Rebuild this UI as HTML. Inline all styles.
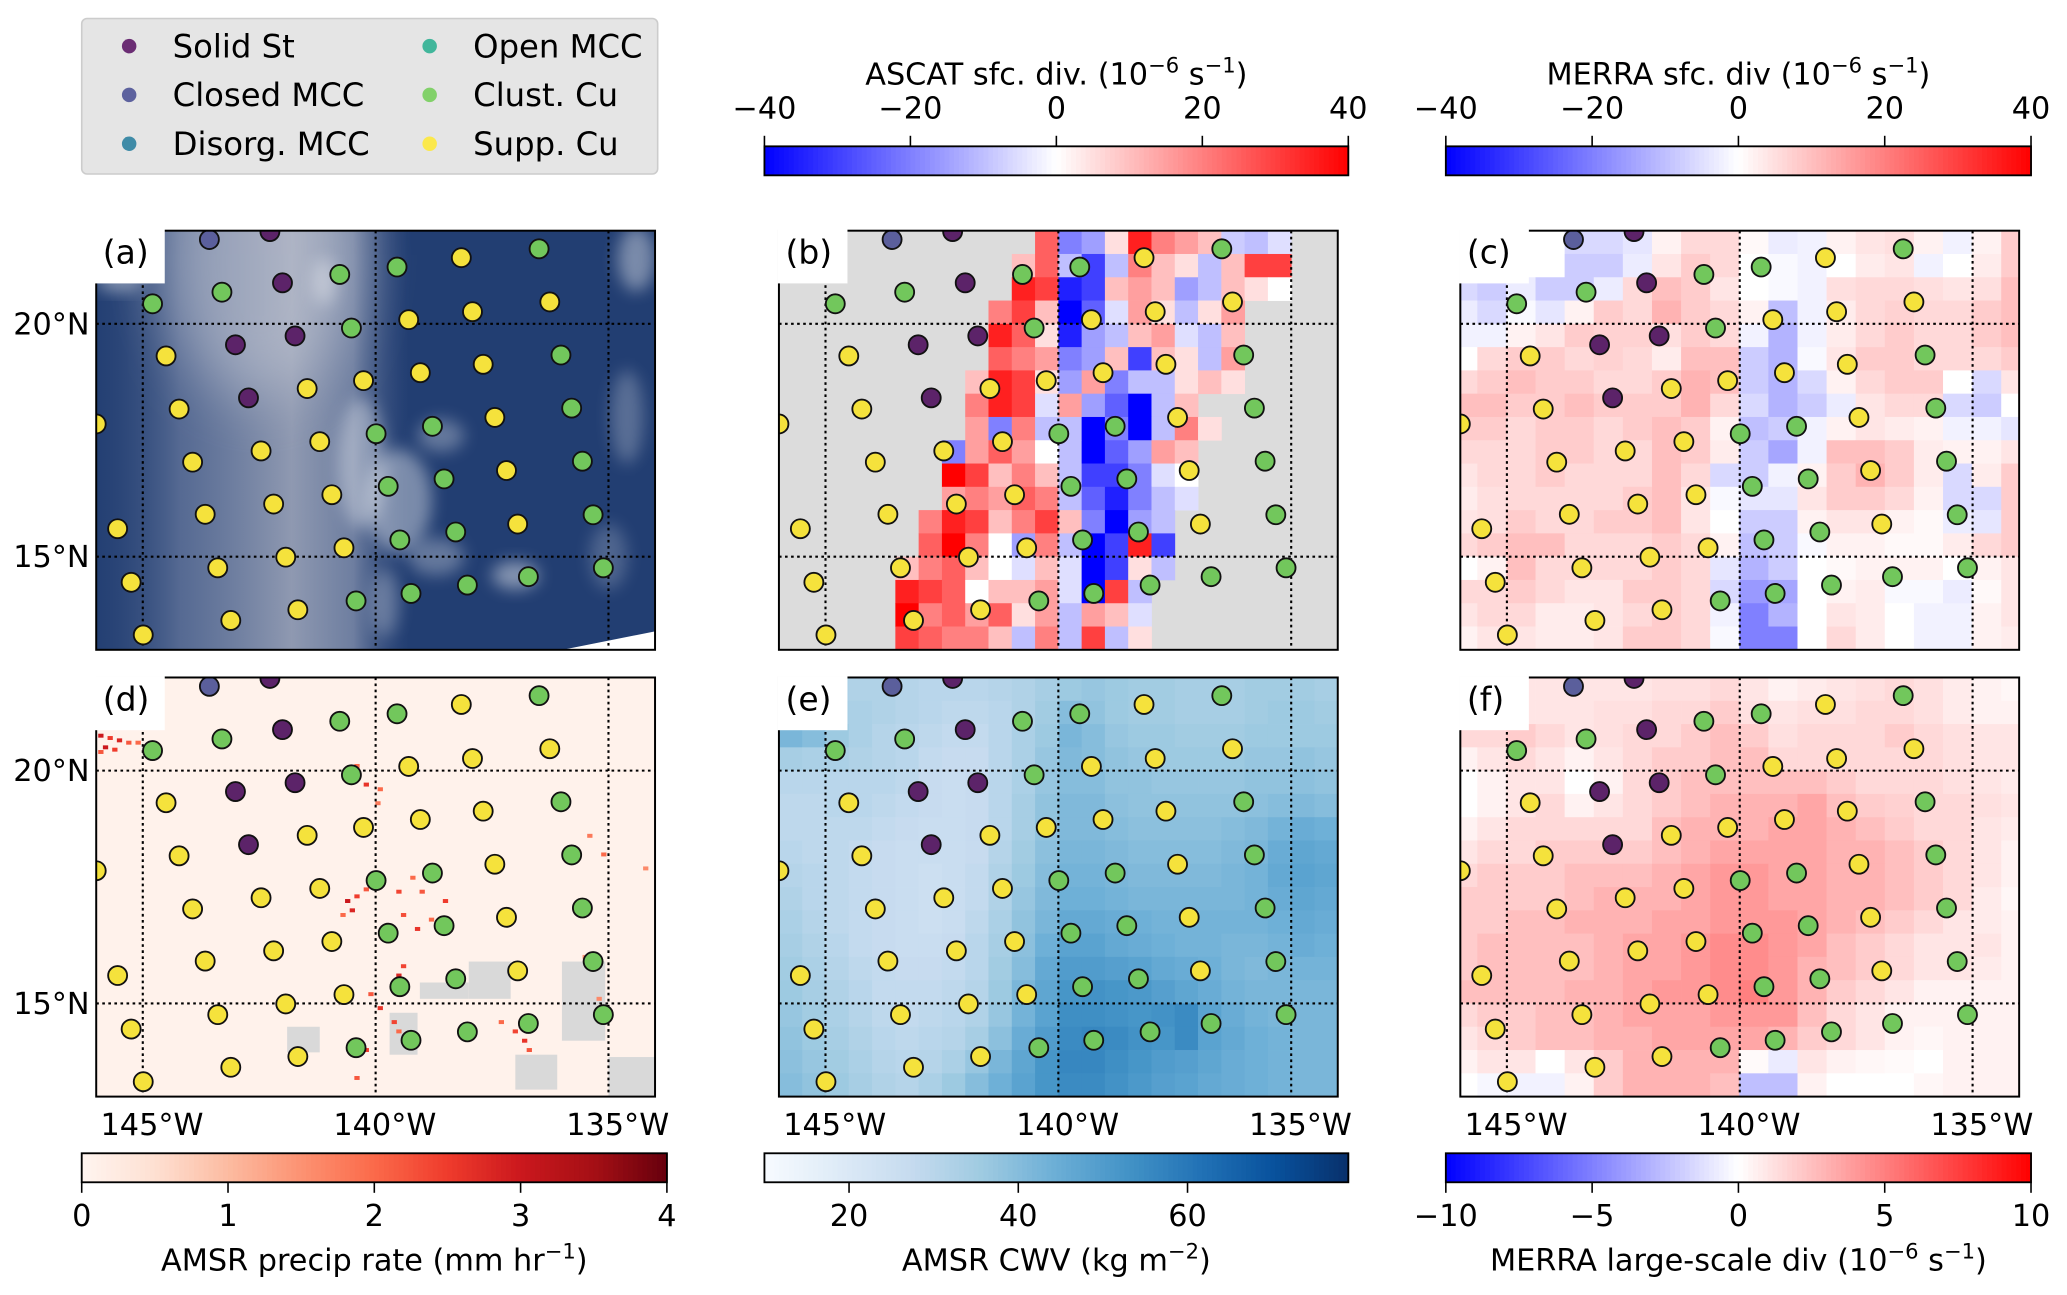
<!DOCTYPE html>
<html><head><meta charset="utf-8"><title>Cloud classes map panels</title>
<style>
html,body{margin:0;padding:0;background:#fff;}
svg{display:block;font-family:"DejaVu Sans","Liberation Sans",sans-serif;}
</style></head>
<body>
<svg id="fig" xmlns="http://www.w3.org/2000/svg" width="2067" height="1295" viewBox="0 0 1568.3 982.5">
<defs>
<filter id="blur3" x="-50%" y="-50%" width="200%" height="200%"><feGaussianBlur stdDeviation="6"/></filter>
<filter id="blur20" x="-50%" y="-50%" width="200%" height="200%"><feGaussianBlur stdDeviation="22"/></filter>
<linearGradient id="glintH" x1="0" x2="1" y1="0" y2="0">
<stop offset="0" stop-color="#2a4577" stop-opacity="0.2"/>
<stop offset="0.15" stop-color="#7181a4" stop-opacity="0.65"/>
<stop offset="0.35" stop-color="#a2a9bc" stop-opacity="0.85"/>
<stop offset="0.46" stop-color="#8f9ab4" stop-opacity="0.7"/>
<stop offset="0.56" stop-color="#4a5f8c" stop-opacity="0"/>
<stop offset="1" stop-color="#223e72" stop-opacity="0"/>
</linearGradient>
</defs>
<g id="root"></g>
</svg>
<script>
// ---------- data ----------
const dotLon=[-143.57,-142.27,-144.79,-143.30,-142.00,-140.77,-139.54,-138.16,-136.49,-136.26,-137.92,-139.29,-140.52,-141.73,-143.01,-144.50,-136.02,-137.69,-139.04,-140.26,-141.47,-142.73,-144.22,-146.0,-135.79,-137.44,-138.78,-139.99,-141.20,-142.46,-143.93,-135.56,-137.19,-138.53,-139.73,-140.94,-142.19,-143.66,-145.54,-135.33,-136.95,-138.28,-139.48,-140.68,-141.93,-143.39,-145.25,-135.11,-136.72,-138.03,-139.24,-140.42,-141.67,-143.11,-144.99];
const dotLat=[21.81,21.98,20.43,20.68,20.88,21.06,21.22,21.42,21.61,20.47,20.26,20.09,19.91,19.74,19.55,19.31,19.33,19.13,18.95,18.78,18.61,18.41,18.17,17.85,18.19,17.99,17.80,17.64,17.47,17.27,17.03,17.05,16.85,16.67,16.51,16.33,16.13,15.91,15.60,15.90,15.70,15.53,15.36,15.19,14.99,14.76,14.45,14.76,14.57,14.39,14.21,14.05,13.86,13.63,13.32];
const dotClass=[1,0,4,4,0,4,4,5,4,5,5,5,4,0,0,5,4,5,5,5,5,0,5,5,4,5,4,4,5,5,5,4,5,4,4,5,5,5,5,4,5,4,4,5,5,5,5,4,4,4,4,4,5,5,5];
const classNames=["Solid St","Closed MCC","Disorg. MCC","Open MCC","Clust. Cu","Supp. Cu"];
const classColors=["#5c2369","#5b5f9c","#3b89a6","#3db79a","#72c75c","#f5e23c"];
const legendColors=["#6b2d74","#5d629e","#3f8ba7","#41b69b","#82d16a","#fbe84c"];

const merraSfc=[
[0,0,0,0,-6,-6,-4,2,6,6,1,-3,-2,2,4,5,2,-2,2,8],
[0,0,0,0,-8,-8,-3,4,8,6,0,-1,-2,0,3,4,-2,0,3,8],
[-6,-8,-3,-8,-8,-3,6,10,8,4,0,-1,-2,5,6,6,5,4,5,10],
[-3,-6,-1,-4,2,8,6,12,8,6,2,-10,-2,3,6,7,6,6,8,10],
[-2,-2,2,4,8,7,7,5,8,6,-2,-12,-2,3,6,8,6,6,8,10],
[0,6,8,8,6,7,6,3,10,10,-8,-12,-1,4,8,8,6,6,6,8],
[6,8,10,8,8,6,6,8,12,10,-8,-12,-6,2,6,8,8,0,-6,4],
[10,10,8,8,10,8,8,8,12,6,-6,-12,-8,-3,4,6,6,-6,-8,0],
[8,8,6,8,8,6,8,10,8,2,-10,-8,-2,2,4,3,2,-2,-2,-4],
[6,6,6,8,8,6,6,10,8,3,-8,-14,-2,10,10,8,3,2,2,4],
[4,6,6,8,6,6,6,10,6,-6,-8,-2,2,8,12,8,3,-6,3,8],
[3,5,6,6,6,6,8,10,4,-1,-4,-4,4,8,8,6,2,-6,-6,8],
[4,5,8,6,6,8,8,10,4,0,-8,-8,2,4,4,2,1,-3,-4,8],
[6,8,10,10,6,6,6,8,6,2,-10,-8,-1,2,2,1,1,3,6,8],
[0,2,10,6,6,6,6,8,6,-4,-12,-8,0,1,2,2,2,0,2,4],
[6,6,8,6,4,4,8,8,6,-6,-16,-14,0,2,3,-1,-1,-3,1,4],
[4,6,6,3,3,4,6,8,6,-2,-20,-12,0,4,3,0,-2,-2,2,4],
[2,4,4,3,3,4,8,8,6,-1,-20,-20,0,6,3,0,-2,-2,2,3]];
const merraLs=[
[1,1,1,1,1.0,1.0,1.0,1.2,1.2,1.5,1.0,0.5,0.8,1.0,1.2,1.5,1.2,0.8,0.5,0.3],
[1,1,1,1,1.0,1.2,1.2,1.5,1.5,2,1.2,1,1.2,1.2,1.5,1.5,1.2,0.8,0.5,0.5],
[1.5,1.5,2,1.5,1.0,1.2,1.5,1.5,2,2.5,2,1.2,1.5,1.5,1.5,2,1.5,1.2,1,1],
[0.5,1,1.5,1,0.5,1,1.5,2,2,2.5,2.5,1.5,1.5,1.5,1.5,1.5,1.5,1.2,1,1],
[0,0.5,1,1,0,0.5,1.5,2,2.5,2.5,2.5,2.5,2.5,2,1.5,1.5,1.5,1.2,1,0.8],
[0,0.5,1,1.5,0.5,1,1.5,2,2.5,3,3,3,3.5,2.5,2,1.8,1.5,1.5,1.2,1],
[0.5,1,1.5,1.5,1.5,1.5,1.5,2.5,3,3,3,3.5,3.5,3,2.5,2,1.5,1.5,1,0.8],
[1,1.5,1.5,2,2,2,2,2.5,3,3.5,3.5,3.5,3.5,3,3,2.5,2,1.5,1,0.5],
[1.5,2,2,2,2.5,2.5,2.5,3,3.5,4,4,3.5,3.5,3,3,2.5,2,1.5,1,0.5],
[2,2,2,2,2.5,3,3,3,3.5,4,4,3.5,3.5,3,3,2.5,2,1.5,0.8,0.3],
[2,2,2.5,2.5,3,3,3,3.5,3.5,4,4,4,3.5,3,2.5,2,1.5,1,0.8,0.5],
[2,2.5,2.5,2.5,2.5,3,3.5,3.5,4,4.5,4.5,4,3.5,2.5,2,1.5,1,1,1,0.5],
[2,2.5,2.5,2.5,2.5,3,3.5,3.5,4,4.5,4.5,4,3,2.5,2,1.5,1,1,0.8,0.5],
[2.5,2.5,2.5,2.5,3,3,3.5,4,4,4.5,5,4,3,2,1.5,1,0.5,0.5,0.5,0.5],
[1.5,2,2,2.5,2.5,3,3.5,3.5,3.5,4,4,4,2.5,1.5,1,0.5,0.5,0.5,0.5,0.5],
[1,1.5,2,2.5,2.5,3,3,3.5,3.5,3.5,3.5,3,2,1.5,1,0.5,0.3,0.5,0.5,0.5],
[0.5,1,1,0,1,2,3,3,3,3,0.2,-0.8,1,0.5,0.3,0.2,0,0.5,0.5,0.5],
[0,-0.3,-0.5,-0.5,0.5,2,3,3,3,2.5,-2.5,-2.5,0.5,0,0,0,0.3,0.5,0.5,0.5]];
const ascatStart=[-140.5,-141,-141,-141.5,-141.5,-141.5,-142,-142,-142,-142.5,-142.5,-142.5,-143,-143,-143.5,-143.5,-143.5,-143.5];
const ascatVals=[
[25,-20,-15,5,35,20,15,10,-8,-10,-5],
[10,25,-10,-30,-10,20,10,5,-10,10,30,30],
[35,30,-35,-30,10,15,10,-15,-10,10,5,0],
[20,30,10,-40,-25,-5,15,5,-10,5,15],
[35,25,5,-35,-15,-10,10,15,-5,-10,10],
[25,20,15,-20,-15,10,-30,10,5,-10,15],
[10,35,30,5,-15,15,-20,-10,-10,5,10,5],
[20,35,30,-5,15,-15,-25,-40,-10,10],
[15,-20,20,-10,-10,-40,-20,-40,-10,20,5],
[-20,15,25,15,0,-10,-40,-25,-15,15,10],
[40,30,10,20,10,-10,-30,-30,-20,-5,0],
[15,20,15,25,20,-10,-25,-35,-20,-10,-5],
[20,35,30,10,20,30,10,-20,-40,-15,-10],
[25,40,20,0,-15,20,-10,-40,-30,35,-30],
[10,20,25,10,0,-5,10,-5,-40,-30,5,-10],
[35,30,25,0,10,10,15,-5,-40,30,-10],
[40,20,25,15,25,5,15,-10,15,10,-5],
[30,25,20,20,10,-10,20,-10,30,-10,5]];
const cwv=[
[35,34,33,32,32,31,30,30,30,31,32,34,36,37,36,35,35,34,34,34,35,35,35,34],
[40,40,34,33,32,31,30,29,29,30,32,35,40,38,36,35,35,34,34,34,35,36,36,35],
[42,40,36,33,31,30,29,28,28,30,33,36,42,40,37,36,36,35,35,35,36,36,36,36],
[34,33,33,32,31,30,28,27,27,30,33,37,41,40,38,37,36,36,36,36,37,37,38,37],
[30,30,30,30,30,29,27,26,27,30,33,37,40,40,38,38,37,37,37,37,38,38,39,38],
[29,29,30,30,29,28,27,26,27,30,34,38,41,41,39,38,38,38,38,38,39,40,41,40],
[29,29,29,29,28,27,26,26,27,30,34,38,41,41,40,39,39,39,39,40,41,43,45,44],
[30,29,29,28,27,26,26,26,27,31,35,39,42,42,41,40,40,40,40,41,42,45,47,46],
[31,30,29,28,27,26,25,26,28,32,36,40,43,43,42,41,41,41,41,42,43,46,48,47],
[32,30,29,28,27,26,25,26,28,32,37,41,44,44,43,42,42,42,42,42,43,45,47,46],
[33,31,29,28,27,26,25,26,29,33,38,42,46,46,45,44,43,43,43,43,43,44,46,45],
[34,32,30,28,27,26,26,27,30,34,39,44,48,48,46,45,44,43,43,42,42,43,45,44],
[35,33,31,29,28,27,27,28,30,35,40,46,50,50,49,48,46,45,44,42,41,42,43,43],
[36,34,32,30,28,28,28,29,31,36,42,47,52,53,52,51,49,47,45,43,42,42,42,42],
[37,35,33,31,29,28,29,30,32,37,43,48,54,54,53,52,53,55,48,45,43,42,42,42],
[38,36,34,32,30,29,30,31,34,39,45,50,55,56,55,53,52,55,48,46,44,43,42,42],
[39,37,35,33,31,30,31,33,37,42,47,52,56,56,54,52,50,49,47,45,44,43,42,42],
[40,38,36,34,32,31,33,36,40,44,48,52,55,55,53,51,49,48,46,45,44,43,42,42]];
const rainLon=[-145.9,-145.7,-145.5,-145.3,-145.1,-145.8,-145.6,-145.9,-140.5,-140.4,-140.2,-139.9,-139.95,-140.6,-140.5,-140.4,-140.2,-140.7,-139.5,-139.2,-139,-138.5,-139.4,-139.1,-138.8,-139.4,-139.5,-140.1,-139.9,-139.6,-139.5,-140.2,-140.4,-137,-136.8,-137.3,-136.7,-135.4,-135.1,-134.2,-135.5,-135.2];
const rainLat=[20.75,20.7,20.65,20.6,20.6,20.5,20.45,20.4,19.9,20.1,19.7,19.6,19.3,17.2,17.0,17.3,17.45,16.9,17.4,17.7,17.4,17.2,16.9,16.6,16.8,15.8,15.6,15.2,14.9,14.6,14.4,14.0,13.4,14.4,14.2,14.6,14.0,18.6,18.2,17.9,16.0,15.1];
const rainRate=[3,2.5,2.8,2.2,2,3,2.5,2.2,2.4,2,2.6,2,1.8,3,2.8,2.5,2.2,2,2.4,2,2.2,2.5,2.3,2.6,2,2.4,2.8,2.2,2.6,2.4,2,2.5,2.2,2.4,2.6,2,2.2,1.8,2,1.6,1.5,1.6];
const missBoxes=[[-138.0,15.1,-137.1,15.9],[-139.05,15.1,-138.0,15.45],[-139.7,13.9,-139.1,14.8],[-141.9,13.95,-141.2,14.5],[-136.0,14.2,-135.07,15.9],[-137.0,13.15,-136.1,13.9],[-135.0,13.0,-134.0,13.85]];
const clouds=[[-140.3,17.0,0.5,1.4,.35],[-139.5,16.2,0.7,1.1,.4],[-138.6,17.6,0.5,0.35,.3],[-137,14.6,0.5,0.3,.45],[-141.1,20.9,0.25,0.5,.35],[-145.5,20.9,0.5,0.2,.45],[-134.4,21.4,0.4,0.7,.4],[-134.6,18,0.35,1.0,.25],[-138.7,15.0,0.6,0.4,.3],[-139.8,14.0,0.3,0.7,.25],[-135,15,0.4,0.7,.2]];
const ascatTicks=[-40,-20,0,20,40];
const merraTicks=[-40,-20,0,20,40];
const rainTicks=[0,1,2,3,4];
const cwvTicks=[20,40,60];
const lsTicks=[-10,-5,0,5,10];
const lonTicks=[-145,-140,-135];
const latTicks=[20,15];

const BWR=[[0,[0,0,255]],[0.5,[255,255,255]],[1,[255,0,0]]];
const REDS=[[0,[255,245,240]],[.125,[254,224,210]],[.25,[252,187,161]],[.375,[252,146,114]],[.5,[251,106,74]],[.625,[239,59,44]],[.75,[203,24,29]],[.875,[165,15,21]],[1,[103,0,13]]];
const BLUES=[[0,[247,251,255]],[.125,[222,235,247]],[.25,[198,219,239]],[.375,[158,202,225]],[.5,[107,174,214]],[.625,[66,146,198]],[.75,[33,113,181]],[.875,[8,81,156]],[1,[8,48,107]]];
function cmap(st,t){t=Math.max(0,Math.min(1,t));for(let i=1;i<st.length;i++){if(t<=st[i][0]){const a=st[i-1],b=st[i];const f=(t-a[0])/(b[0]-a[0]);const c=a[1].map((v,k)=>Math.round(v+(b[1][k]-v)*f));return `rgb(${c[0]},${c[1]},${c[2]})`;}}const c=st[st.length-1][1];return `rgb(${c[0]},${c[1]},${c[2]})`;}

const NS="http://www.w3.org/2000/svg";
const root=document.getElementById('root');
function el(tag,attrs,parent){const e=document.createElementNS(NS,tag);for(const k in attrs)e.setAttribute(k,attrs[k]);(parent||root).appendChild(e);return e;}
const PW=424,PH=318,LON0=-146,LON1=-134,LAT0=13,LAT1=22;
const colX=[73,591,1108],rowY=[175,514];
function xs(p,lon){return p.x+(lon-LON0)/(LON1-LON0)*PW;}
function ys(p,lat){return p.y+(LAT1-lat)/(LAT1-LAT0)*PH;}
const FS=23;

const lg=el('g',{});


el('rect',{x:62,y:14,width:437,height:118,rx:4,fill:'#e5e5e5',stroke:'#cccccc','stroke-width':1.2},lg);
classNames.forEach((n,i)=>{
  const cx=i<3?98:326, cy=35+(i%3)*37;
  const g=el('g',{},lg);
  
  
  el('circle',{cx:cx,cy:cy,r:5.5,fill:legendColors[i]},g);
  const t=el('text',{x:cx+33,y:cy+8.5,'font-size':24.5,fill:'#000'},g);t.textContent=n;
});

function drawColorbar(x0,y0,w,h,stops,vmin,vmax,ticks,title,ticksOnTop,name){
  const g=el('g',{});
  
  
  const N=120;
  for(let i=0;i<N;i++){el('rect',{x:x0+i*w/N,y:y0,width:w/N+0.6,height:h,fill:cmap(stops,(i+0.5)/N)},g);}
  el('rect',{x:x0,y:y0,width:w,height:h,fill:'none',stroke:'#000','stroke-width':1.4},g);
  ticks.forEach(v=>{
    const tx=x0+(v-vmin)/(vmax-vmin)*w;
    if(ticksOnTop){el('line',{x1:tx,x2:tx,y1:y0-8,y2:y0,stroke:'#000','stroke-width':1.2},g);}
    else{el('line',{x1:tx,x2:tx,y1:y0+h,y2:y0+h+8,stroke:'#000','stroke-width':1.2},g);}
    const t=el('text',{x:tx,y:ticksOnTop?y0-21:y0+h+33,'text-anchor':'middle','font-size':FS},g);
    t.textContent=(v<0?'\u2212':'')+Math.abs(v);
  });
  const tt=el('text',{x:x0+w/2,y:ticksOnTop?y0-47:y0+h+67,'text-anchor':'middle','font-size':FS},g);
  title.forEach(s=>{const sp=el('tspan',s.sup?{'font-size':16,dy:-9}:{dy:s.down?9:0},tt);sp.textContent=s.t;});
}
drawColorbar(580,111,443,22,BWR,-40,40,ascatTicks,[{t:'ASCAT sfc. div. (10'},{t:'\u22126',sup:1},{t:' s',down:1},{t:'\u22121',sup:1},{t:')',down:1}],true,'ascat-colorbar');
drawColorbar(1097,111,444,22,BWR,-40,40,merraTicks,[{t:'MERRA sfc. div (10'},{t:'\u22126',sup:1},{t:' s',down:1},{t:'\u22121',sup:1},{t:')',down:1}],true,'merra-sfc-colorbar');
drawColorbar(62,875,444,22,REDS,0,4,rainTicks,[{t:'AMSR precip rate (mm hr'},{t:'\u22121',sup:1},{t:')',down:1}],false,'precip-colorbar');
drawColorbar(580,875,443,22,BLUES,10,79,cwvTicks,[{t:'AMSR CWV (kg m'},{t:'\u22122',sup:1},{t:')',down:1}],false,'cwv-colorbar');
drawColorbar(1097,875,444,22,BWR,-10,10,lsTicks,[{t:'MERRA large-scale div (10'},{t:'\u22126',sup:1},{t:' s',down:1},{t:'\u22121',sup:1},{t:')',down:1}],false,'merra-ls-colorbar');

const panels=[
 {id:'a',x:colX[0],y:rowY[0]},{id:'b',x:colX[1],y:rowY[0]},{id:'c',x:colX[2],y:rowY[0]},
 {id:'d',x:colX[0],y:rowY[1]},{id:'e',x:colX[1],y:rowY[1]},{id:'f',x:colX[2],y:rowY[1]}];
panels.forEach((p,pi)=>{
  const g=el('g',{});
  
  
  const cp=el('clipPath',{id:'clip'+p.id},g);
  el('rect',{x:p.x,y:p.y,width:PW,height:PH},cp);
  const body=el('g',{'clip-path':`url(#clip${p.id})`},g);
  const bg=el('g',{},body);
  
  
  if(p.id==='a'){
    el('rect',{x:p.x,y:p.y,width:PW,height:PH,fill:'#223e72'},bg);
    el('rect',{x:p.x,y:p.y,width:PW,height:PH,fill:'url(#glintH)'},bg);
    el('ellipse',{cx:xs(p,-142.5),cy:ys(p,21.5),rx:75,ry:110,fill:'#d4d6de',opacity:0.45,filter:'url(#blur20)'},bg);
    clouds.forEach(c=>{el('ellipse',{cx:xs(p,c[0]),cy:ys(p,c[1]),rx:c[2]*PW/12,ry:c[3]*PH/9,fill:'#ffffff',opacity:c[4],filter:'url(#blur3)'},bg);});
    el('polygon',{points:`${p.x+PW-70},${p.y+PH} ${p.x+PW},${p.y+PH-14} ${p.x+PW},${p.y+PH}`,fill:'#fff'},bg);
  } else if(p.id==='b'){
    el('rect',{x:p.x,y:p.y,width:PW,height:PH,fill:'#dcdcdc'},bg);
    ascatVals.forEach((row,r)=>{row.forEach((v,c)=>{
      const l=ascatStart[r]+c*0.5;
      const x1=xs(p,l),x2=xs(p,l+0.5),y1=ys(p,LAT1-r*0.5),y2=ys(p,LAT1-(r+1)*0.5);
      el('rect',{x:x1,y:y1,width:x2-x1+0.3,height:y2-y1+0.3,fill:cmap(BWR,(v+40)/80)},bg);
    });});
  } else if(p.id==='c'||p.id==='f'){
    const data=p.id==='c'?merraSfc:merraLs, vm=p.id==='c'?40:10;
    data.forEach((row,r)=>{row.forEach((v,c)=>{
      const l=-146.26+c*0.625;
      const x1=xs(p,l),x2=xs(p,l+0.625),y1=ys(p,LAT1-r*0.5),y2=ys(p,LAT1-(r+1)*0.5);
      el('rect',{x:x1,y:y1,width:x2-x1+0.3,height:y2-y1+0.3,fill:cmap(BWR,(v+vm)/(2*vm))},bg);
    });});
  } else if(p.id==='d'){
    el('rect',{x:p.x,y:p.y,width:PW,height:PH,fill:cmap(REDS,0.02)},bg);
    missBoxes.forEach(b=>{el('rect',{x:xs(p,b[0]),y:ys(p,b[3]),width:xs(p,b[2])-xs(p,b[0]),height:ys(p,b[1])-ys(p,b[3]),fill:'#d9d9d9'},bg);});
    rainLon.forEach((lon,i)=>{el('rect',{x:xs(p,lon)-2,y:ys(p,rainLat[i])-1.5,width:4,height:3,fill:cmap(REDS,rainRate[i]/4)},bg);});
  } else if(p.id==='e'){
    cwv.forEach((row,r)=>{row.forEach((v,c)=>{
      const l=-146+c*0.5;
      const x1=xs(p,l),x2=xs(p,l+0.5),y1=ys(p,LAT1-r*0.5),y2=ys(p,LAT1-(r+1)*0.5);
      el('rect',{x:x1,y:y1,width:x2-x1+0.3,height:y2-y1+0.3,fill:cmap(BLUES,(v-10)/69)},bg);
    });});
  }
  lonTicks.forEach(l=>{const gl=el('line',{x1:xs(p,l),x2:xs(p,l),y1:p.y,y2:p.y+PH,stroke:'#000','stroke-width':1.6,'stroke-dasharray':'2 2.6'},body);
    });
  latTicks.forEach(l=>{const gl=el('line',{x1:p.x,x2:p.x+PW,y1:ys(p,l),y2:ys(p,l),stroke:'#000','stroke-width':1.6,'stroke-dasharray':'2 2.6'},body);
    });
  dotLon.forEach((lon,i)=>{
    const d=el('circle',{cx:xs(p,lon),cy:ys(p,dotLat[i]),r:7.2,fill:classColors[dotClass[i]],stroke:'#111','stroke-width':1.4},body);
    
    
  });
  el('rect',{x:p.x,y:p.y,width:PW,height:PH,fill:'none',stroke:'#000','stroke-width':1.5},g);
  el('rect',{x:p.x-1,y:p.y-1,width:53,height:41,fill:'#fff'},g);
  const lt=el('text',{x:p.x+5,y:p.y+25,'font-size':25},g);
  
  
  lt.textContent='('+p.id+')';
  if(pi%3===0){latTicks.forEach(l=>{const t=el('text',{x:p.x-5,y:ys(p,l)+8,'text-anchor':'end','font-size':FS},g);
    t.textContent=l+'\u00b0N';});}
  if(pi>=3){lonTicks.forEach(l=>{const t=el('text',{x:xs(p,l)+7,y:p.y+PH+29,'text-anchor':'middle','font-size':FS},g);
    t.textContent=Math.abs(l)+'\u00b0W';});}
});
</script>
</body></html>
